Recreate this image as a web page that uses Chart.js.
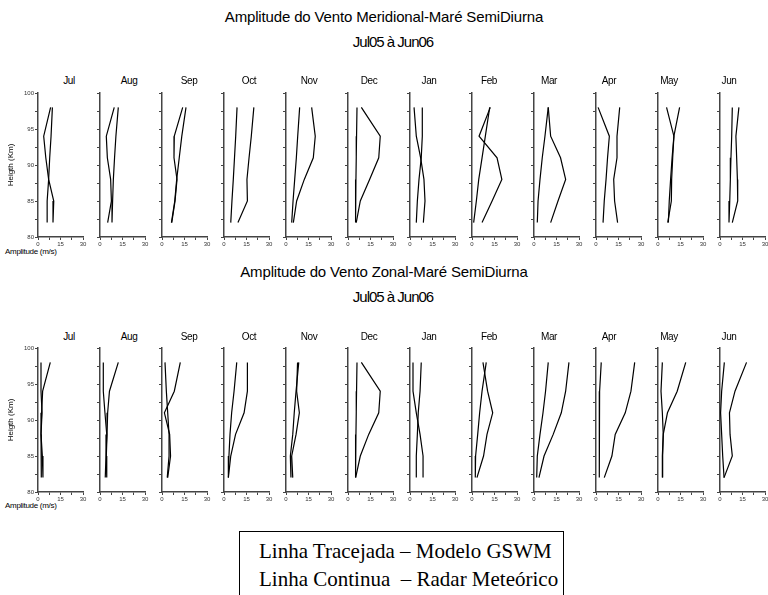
<!DOCTYPE html>
<html><head><meta charset="utf-8">
<script src="https://cdn.jsdelivr.net/npm/chart.js@4"></script>
<style>
body{margin:0;width:768px;height:595px;overflow:hidden;background:#fff;position:relative;font-family:"Liberation Sans",Arial,sans-serif}
canvas{position:absolute}
.t{position:absolute;white-space:pre;line-height:1;color:#000}
.c{transform:translateX(-50%)}
.title{font-size:15px;letter-spacing:-0.15px}
.sub{font-size:15px;letter-spacing:-1px}
.month{font-size:10px;letter-spacing:-0.4px}
.amp{font-size:8px;letter-spacing:-0.3px}
#legend{position:absolute;left:239px;top:531px;width:323px;height:80px;border:1.5px solid #000;font-family:"Liberation Serif","Times New Roman",serif;font-size:21px}
#legend div{position:absolute;left:19px;white-space:pre;line-height:1}
</style></head><body>
<div class="t c title" style="left:384px;top:9px">Amplitude do Vento Meridional-Maré SemiDiurna</div>
<div class="t c sub" style="left:393px;top:34px">Jul05 à Jun06</div>
<div class="t c title" style="left:384px;top:264px">Amplitude do Vento Zonal-Maré SemiDiurna</div>
<div class="t c sub" style="left:393px;top:289px">Jul05 à Jun06</div>
<div class="t amp" style="left:5px;top:248px">Amplitude (m/s)</div>
<div class="t amp" style="left:5px;top:502px">Amplitude (m/s)</div>
<div id="legend">
  <div style="top:9px">Linha Tracejada – Modelo GSWM</div>
  <div style="top:37px">Linha Continua  – Radar Meteórico</div>
</div>
<script>
// ---- data ----
const months = ['Jul','Aug','Sep','Oct','Nov','Dec','Jan','Feb','Mar','Apr','May','Jun'];
const heights = [98, 94, 91, 88, 85, 82];           // km
const xTickLabels = [0, 15, 30];                      // m/s
const yTickLabels = [80, 85, 90, 95, 100];            // km

// Meridional wind, semidiurnal tide amplitude (m/s) at the heights above
const meridionalRadar = [
  [8.4, 3.8, 5.2, 7.1, 10.5, 10.0],
  [9.5, 4.2, 4.9, 7.1, 7.6, 5.1],
  [13.8, 8.2, 8.0, 10.0, 8.7, 6.5],
  [19.9, 18.2, 16.7, 15.3, 15.6, 9.3],
  [17.1, 19.5, 18.2, 12.2, 7.1, 4.9],
  [8.9, 21.5, 20.5, 14.4, 8.2, 5.5],
  [2.7, 4.2, 7.1, 9.3, 10.0, 8.9],
  [12.2, 4.7, 16.7, 19.9, 13.4, 6.7],
  [9.5, 11.1, 17.7, 21.1, 16.0, 11.1],
  [1.4, 8.9, 7.7, 6.7, 5.5, 4.7],
  [5.7, 10.6, 9.8, 9.1, 8.9, 6.5],
  [12.6, 10.6, 11.1, 11.6, 11.8, 8.2]
];
const meridionalGswm = [
  [9.6, 8.7, 7.8, 7.1, 6.1, 6.1],
  [12.2, 10.6, 9.7, 8.9, 8.4, 8.0],
  [16.0, 13.2, 11.5, 9.8, 8.5, 6.3],
  [8.7, 7.8, 7.0, 6.2, 5.3, 4.5],
  [9.1, 7.8, 6.9, 5.8, 4.7, 3.8],
  [6.0, 5.7, 5.5, 5.3, 5.2, 4.9],
  [8.2, 8.2, 7.5, 6.0, 4.9, 4.2],
  [11.8, 8.9, 6.7, 4.5, 2.9, 1.1],
  [9.5, 7.3, 5.5, 4.0, 2.7, 2.2],
  [15.8, 14.0, 14.0, 11.8, 12.4, 14.4],
  [14.4, 10.6, 9.4, 8.4, 7.5, 6.9],
  [8.2, 7.8, 7.3, 6.9, 6.5, 6.0]
];
// Zonal wind, semidiurnal tide amplitude (m/s)
const zonalRadar = [
  [8.2, 3.1, 2.4, 2.0, 2.9, 3.3],
  [12.2, 6.3, 5.1, 4.7, 4.2, 4.5],
  [12.2, 8.2, 1.6, 5.1, 5.7, 3.8],
  [15.6, 15.6, 13.4, 7.7, 4.5, 2.9],
  [7.7, 7.1, 8.9, 6.7, 3.8, 4.5],
  [8.9, 21.5, 20.5, 13.8, 8.2, 5.1],
  [2.0, 2.0, 4.2, 6.7, 8.7, 8.7],
  [7.3, 10.4, 13.8, 10.0, 7.7, 3.3],
  [23.3, 21.1, 18.2, 12.8, 6.7, 3.3],
  [25.8, 23.3, 19.5, 12.8, 10.6, 5.5],
  [18.5, 12.8, 6.3, 3.5, 3.1, 3.1],
  [17.7, 10.0, 6.3, 6.7, 8.2, 2.7]
];
const zonalGswm = [
  [2.0, 2.0, 2.7, 2.0, 2.4, 2.0],
  [2.2, 2.2, 3.3, 4.5, 4.0, 3.5],
  [2.0, 2.9, 3.8, 4.7, 4.7, 3.5],
  [8.5, 6.7, 5.1, 4.0, 3.3, 2.9],
  [8.5, 6.7, 5.5, 4.5, 2.9, 3.3],
  [6.0, 5.7, 5.5, 5.3, 5.2, 4.9],
  [7.5, 6.7, 5.5, 4.9, 4.2, 4.2],
  [9.5, 6.7, 5.1, 3.8, 2.4, 2.2],
  [9.5, 7.7, 6.0, 4.0, 2.2, 1.8],
  [3.5, 2.4, 2.2, 2.2, 2.2, 2.2],
  [2.9, 2.0, 2.9, 3.5, 2.9, 2.9],
  [2.9, 1.1, 0.4, 1.1, 1.8, 2.7]
];

// ---- layout ----
const FONT = '"Liberation Sans", Arial, sans-serif';
const rows = [
  {radar: meridionalRadar, gswm: meridionalGswm, top: 85, monthTop: 76},
  {radar: zonalRadar, gswm: zonalGswm, top: 340, monthTop: 332}
];
const LEFT_SPACE = 38, PLOT_W = 45, PAD_R = 10, PAD_T = 8, PLOT_H = 144, X_AXIS_H = 14;

function pts(vals){ return vals.map((v, k) => ({x: v, y: heights[k]})); }

rows.forEach((row, r) => {
  months.forEach((m, i) => {
    const axisX = Math.round(37.5 + i * 62);
    const first = i === 0;
    const lab = document.createElement('div');
    lab.className = 't c month';
    lab.style.left = (69 + i * 60) + 'px';
    lab.style.top = row.monthTop + 'px';
    lab.textContent = m;
    document.body.appendChild(lab);

    const cv = document.createElement('canvas');
    const w = LEFT_SPACE + PLOT_W + PAD_R, h = PAD_T + PLOT_H + X_AXIS_H;
    cv.width = w; cv.height = h;
    cv.style.left = (axisX - LEFT_SPACE) + 'px';
    cv.style.top = row.top + 'px';
    cv.style.width = w + 'px'; cv.style.height = h + 'px';
    document.body.appendChild(cv);

    const axisCommon = {
      border: {display: true, color: '#444', width: 1.5},
      grid: {drawOnChartArea: false, drawTicks: true, tickLength: 3, tickColor: '#444', tickWidth: 1}
    };
    new Chart(cv, {
      type: 'line',
      data: {
        datasets: [
          {label: 'Radar Meteórico', data: pts(row.radar[i]), borderColor: '#000', borderWidth: 1.2, pointRadius: 0, fill: false, tension: 0},
          {label: 'Modelo GSWM', data: pts(row.gswm[i]), borderColor: '#000', borderWidth: 1.2, pointRadius: 0, fill: false, tension: 0}
        ]
      },
      options: {
        responsive: false, animation: false, devicePixelRatio: 1,
        layout: {padding: {left: 0, right: PAD_R, top: PAD_T, bottom: 0}},
        plugins: {legend: {display: false}, tooltip: {enabled: false}, title: {display: false}},
        scales: {
          x: Object.assign({}, axisCommon, {
            type: 'linear', min: xTickLabels[0], max: xTickLabels[xTickLabels.length - 1],
            afterFit(s){ s.height = X_AXIS_H; },
            ticks: {stepSize: 7.5, autoSkip: false, maxRotation: 0, padding: 1, color: '#333',
              font: {size: 6, family: FONT},
              callback: v => xTickLabels.includes(v) ? String(v) : ''}
          }),
          y: Object.assign({}, axisCommon, {
            type: 'linear', min: yTickLabels[0], max: yTickLabels[yTickLabels.length - 1],
            afterFit(s){ s.width = LEFT_SPACE; },
            ticks: {stepSize: 2.5, autoSkip: false, padding: 1, color: '#333',
              font: {size: 6, family: FONT},
              callback: v => (first && yTickLabels.includes(v)) ? String(v) : ''},
            title: {display: first, text: 'Heigth (Km)', color: '#000', font: {size: 8, family: FONT}, padding: {top: 6, bottom: 0}}
          })
        }
      }
    });
  });
});
</script>
</body></html>
